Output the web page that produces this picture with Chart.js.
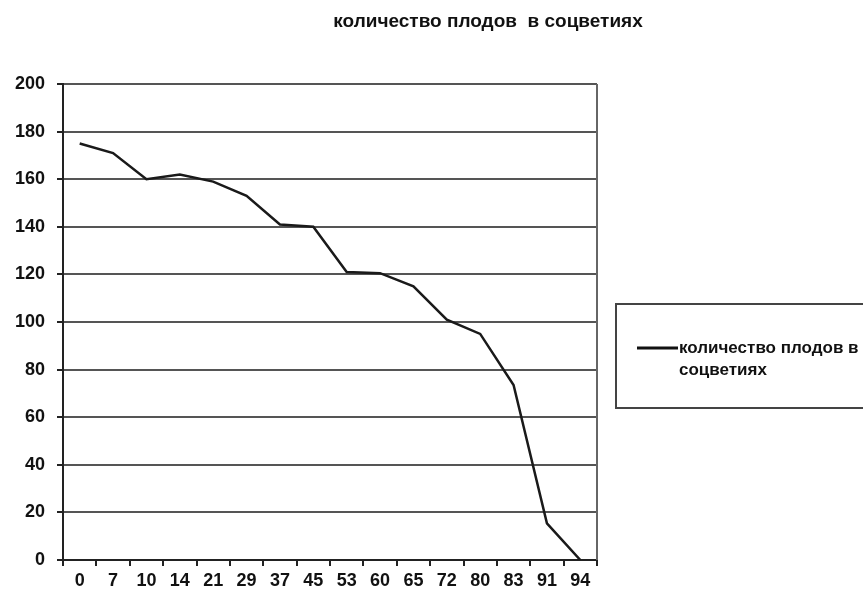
<!DOCTYPE html>
<html>
<head>
<meta charset="utf-8">
<script src="https://cdn.jsdelivr.net/npm/chart.js@4/dist/chart.umd.min.js"></script>
<style>
  html, body { margin: 0; padding: 0; background: #fff; }
  #wrap { width: 863px; height: 591px; position: relative; }
</style>
</head>
<body>
<div id="wrap"><canvas id="c" width="863" height="591"></canvas></div>
<script>
// Days (category labels) and number of fruits in inflorescences
const days = ['0', '7', '10', '14', '21', '29', '37', '45', '53', '60', '65', '72', '80', '83', '91', '94'];
const fruitCounts = [175, 171, 160, 162, 159, 153, 141, 140, 121, 120.5, 115, 101, 95, 73.5, 15.4, 0];
const yTicks = [0, 20, 40, 60, 80, 100, 120, 140, 160, 180, 200];
const seriesName = 'количество плодов в соцветиях';
const titleText = 'количество плодов  в соцветиях';
const legendLines = ['количество плодов в', 'соцветиях'];

const FONT = '"Liberation Sans", Arial, sans-serif';

// Title, right frame edge and legend box are painted on the canvas
const decorations = {
  id: 'decorations',
  afterDraw(chart) {
    const ctx = chart.ctx;
    const a = chart.chartArea;
    ctx.save();
    // right edge of plot frame
    ctx.strokeStyle = '#666';
    ctx.lineWidth = 2;
    ctx.beginPath();
    ctx.moveTo(a.right, a.top);
    ctx.lineTo(a.right, a.bottom);
    ctx.stroke();

    // title
    ctx.fillStyle = '#111';
    ctx.font = 'bold 19px ' + FONT;
    ctx.textAlign = 'center';
    ctx.textBaseline = 'alphabetic';
    ctx.fillText(titleText, 488, 27);

    // legend box
    ctx.strokeStyle = '#444';
    ctx.lineWidth = 2;
    ctx.strokeRect(616, 304, 260, 104);
    ctx.strokeStyle = '#111';
    ctx.lineWidth = 3;
    ctx.beginPath();
    ctx.moveTo(637, 348);
    ctx.lineTo(678, 348);
    ctx.stroke();
    ctx.fillStyle = '#111';
    ctx.font = 'bold 17px ' + FONT;
    ctx.textAlign = 'left';
    ctx.fillText(legendLines[0], 679, 353);
    ctx.fillText(legendLines[1], 679, 375);
    ctx.restore();
  }
};

new Chart(document.getElementById('c'), {
  type: 'line',
  data: {
    labels: days,
    datasets: [{
      label: seriesName,
      data: fruitCounts,
      borderColor: '#1a1a1a',
      borderWidth: 2.5,
      pointRadius: 0,
      tension: 0,
      fill: false
    }]
  },
  options: {
    responsive: false,
    animation: false,
    devicePixelRatio: 1,
    layout: { padding: { top: 84, right: 266, left: 0, bottom: 0 } },
    plugins: {
      legend: { display: false },
      title: { display: false },
      tooltip: { enabled: false }
    },
    scales: {
      x: {
        type: 'category',
        offset: true,
        grid: {
          offset: true,
          drawOnChartArea: false,
          drawTicks: true,
          tickLength: 6,
          color: '#222',
          lineWidth: 2
        },
        border: { color: '#222', width: 2 },
        ticks: {
          color: '#111',
          font: { family: FONT, size: 18, weight: 'bold' },
          padding: 4,
          maxRotation: 0,
          autoSkip: false
        },
        afterFit(scale) { scale.height = 31; }
      },
      y: {
        min: 0,
        max: 200,
        afterBuildTicks(scale) { scale.ticks = yTicks.map(v => ({ value: v })); },
        grid: {
          color: '#555',
          lineWidth: 2,
          tickLength: 6,
          tickColor: '#222'
        },
        border: { color: '#222', width: 2 },
        ticks: {
          color: '#111',
          font: { family: FONT, size: 18, weight: 'bold' },
          padding: 12
        },
        afterFit(scale) { scale.width = 63; }
      }
    }
  },
  plugins: [decorations]
});
</script>
</body>
</html>
